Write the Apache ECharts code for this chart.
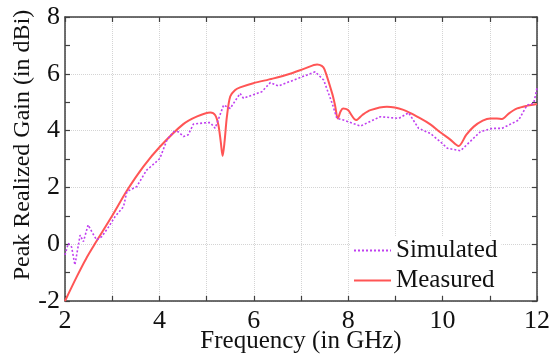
<!DOCTYPE html>
<html>
<head>
<meta charset="utf-8">
<script src="https://cdn.jsdelivr.net/npm/echarts@6/dist/echarts.min.js"></script>
<style>html,body{margin:0;padding:0;background:#fff}#c{width:549px;height:356px}</style>
</head>
<body>
<div id="c"></div>
<script>
var xTicks = [2, 4, 6, 8, 10, 12];
var yTicks = [-2, 0, 2, 4, 6, 8];
var simFreq = [2,2.07,2.14,2.21,2.32,2.39,2.49,2.58,2.67,2.78,2.92,3.06,3.24,3.31,3.45,3.52,3.73,3.9,4.01,4.16,4.3,4.4,4.51,4.61,4.72,5.0,5.08,5.18,5.36,5.5,5.71,5.78,6.17,6.35,6.52,7.3,7.48,7.66,7.76,7.9,8.26,8.68,9.07,9.28,9.49,9.74,9.95,10.1,10.38,10.8,11.05,11.26,11.61,11.79,11.93,12];
var simGain = [-0.38,0.03,-0.1,-0.73,0.32,0.09,0.68,0.4,0.15,0.27,0.6,0.97,1.32,1.85,1.97,2.03,2.61,2.85,3.02,3.67,3.96,3.96,3.79,3.85,4.23,4.28,4.28,4.08,4.9,4.78,5.31,5.14,5.37,5.69,5.57,6.07,5.78,4.96,4.43,4.37,4.16,4.49,4.43,4.63,4.08,3.9,3.61,3.38,3.29,3.96,4.08,4.08,4.37,4.9,4.96,5.49];
var measFreq = [2,2.25,2.45,2.64,3.0,3.31,3.66,4.01,4.5,4.8,5.08,5.18,5.25,5.3,5.34,5.38,5.43,5.5,5.6,5.71,5.99,6.4,6.77,7.1,7.34,7.44,7.5,7.66,7.72,7.78,7.84,7.89,7.99,8.17,8.3,8.47,8.82,9.17,9.53,9.74,9.95,10.15,10.34,10.5,10.66,10.85,11.01,11.15,11.26,11.4,11.58,11.8,11.97,12];
var measGain = [-2,-1.14,-0.5,0.03,1.0,1.88,2.73,3.43,4.22,4.5,4.64,4.55,4.2,3.6,3.11,3.6,4.49,5.2,5.42,5.52,5.67,5.83,6.0,6.2,6.33,6.28,6.15,5.31,4.9,4.43,4.68,4.78,4.73,4.37,4.55,4.72,4.84,4.73,4.43,4.22,3.94,3.7,3.46,3.85,4.14,4.35,4.43,4.43,4.41,4.6,4.78,4.88,4.93,4.94];

function pairs(a, b) { return a.map(function (v, i) { return [v, b[i]]; }); }

var FONT = "'Liberation Serif', 'Times New Roman', serif";
var axisColor = '#404040';
var chart = echarts.init(document.getElementById('c'), null, {renderer: 'canvas'});
var baseX = {
  type: 'value', min: xTicks[0], max: xTicks[xTicks.length - 1], interval: 2,
  axisLine: {show: true, onZero: false, lineStyle: {color: axisColor, width: 1.5}},
  axisTick: {show: true, inside: true, length: 5, lineStyle: {color: axisColor, width: 1.2}},
  minorTick: {show: true, splitNumber: 2, length: 5, lineStyle: {color: axisColor, width: 1.2}}
};
var baseY = {
  type: 'value', min: yTicks[0], max: yTicks[yTicks.length - 1], interval: 2,
  axisLine: {show: true, onZero: false, lineStyle: {color: axisColor, width: 1.5}},
  axisTick: {show: true, inside: true, length: 5, lineStyle: {color: axisColor, width: 1.2}},
  minorTick: {show: true, splitNumber: 2, length: 5, lineStyle: {color: axisColor, width: 1.2}}
};
var option = {
  animation: false,
  backgroundColor: '#fff',
  grid: {left: 65, right: 12, top: 17, bottom: 55, containLabel: false, outerBoundsMode: 'none'},
  xAxis: [
    Object.assign({}, baseX, {
      position: 'bottom',
      name: 'Frequency (in GHz)', nameLocation: 'middle', nameGap: 28, nameMoveOverlap: false,
      nameTextStyle: {fontFamily: FONT, fontSize: 25, color: '#111'},
      axisLabel: {fontFamily: FONT, fontSize: 26, color: '#111', margin: 7},
      splitLine: {show: true, lineStyle: {color: '#d4d4d4', type: 'dotted', width: 1}},
      minorSplitLine: {show: true, lineStyle: {color: '#d4d4d4', type: 'dotted', width: 1}}
    }),
    Object.assign({}, baseX, {
      position: 'top', axisLabel: {show: false}, splitLine: {show: false}
    })
  ],
  yAxis: [
    Object.assign({}, baseY, {
      position: 'left',
      name: 'Peak Realized Gain (in dBi)', nameLocation: 'middle', nameGap: 30, nameMoveOverlap: false,
      nameTextStyle: {fontFamily: FONT, fontSize: 24, color: '#111', padding: [0, 0, 0, 28]},
      axisLabel: {fontFamily: FONT, fontSize: 26, color: '#111', margin: 5},
      splitLine: {show: true, lineStyle: {color: '#d4d4d4', type: 'dotted', width: 1}}
    }),
    Object.assign({}, baseY, {
      position: 'right', axisLabel: {show: false}, splitLine: {show: false}
    })
  ],
  legend: {
    orient: 'vertical', left: 350, top: 236,
    backgroundColor: '#fff', padding: [2, 4, 2, 3],
    itemWidth: 37, itemHeight: 4, itemGap: 5,
    itemStyle: {opacity: 0},
    textStyle: {fontFamily: FONT, fontSize: 25, color: '#111', lineHeight: 24},
    data: ['Simulated', 'Measured']
  },
  series: [
    {
      name: 'Simulated', type: 'line', data: pairs(simFreq, simGain),
      showSymbol: false, symbol: 'none', smooth: false, z: 3,
      lineStyle: {color: '#c040f0', width: 1.6, type: [2, 2]},
      itemStyle: {color: '#c040f0'}
    },
    {
      name: 'Measured', type: 'line', data: pairs(measFreq, measGain),
      showSymbol: false, symbol: 'none', smooth: 0.3, z: 2,
      lineStyle: {color: '#ff5555', width: 2},
      itemStyle: {color: '#ff5555'}
    }
  ]
};
chart.setOption(option);
</script>
</body>
</html>
